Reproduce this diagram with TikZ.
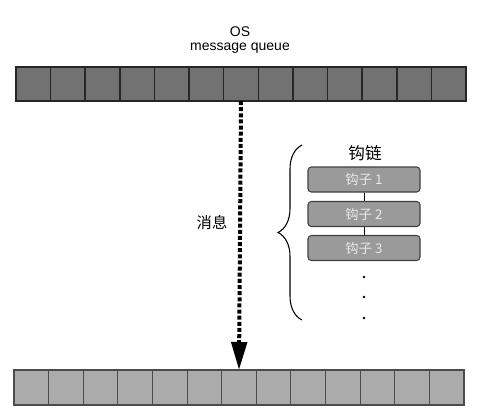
\documentclass[tikz,border=0pt]{standalone}
\usepackage{fontspec}
\setmainfont{Liberation Sans}
\newfontfamily\cjk{Noto Sans CJK SC}
\newfontfamily\cjkm{Noto Sans CJK SC Medium}
\usetikzlibrary{arrows.meta,decorations.pathreplacing}
\definecolor{topcell}{HTML}{727272}
\definecolor{botcell}{HTML}{ABABAB}
\definecolor{hookfill}{HTML}{9A9A9A}
\definecolor{hooktext}{HTML}{E8E8E8}
\tikzset{
  topq/.style={draw=black!85,line width=1.1pt,fill=topcell,minimum width=34.6*0.75pt,minimum height=34*0.75pt,inner sep=0pt,outer sep=0pt},
  botq/.style={draw=black!70,line width=0.8pt,fill=botcell,minimum width=34.6*0.75pt,minimum height=35*0.75pt,inner sep=0pt,outer sep=0pt},
  hookbox/.style={draw=black!75,line width=0.8pt,fill=hookfill,rounded corners=2.5pt,minimum width=112*0.75pt,minimum height=25*0.75pt,inner sep=0pt,text=hooktext,font=\cjk\fontsize{10}{11}\selectfont},
  lbl/.style={inner sep=0pt},
  msgarrow/.style={line width=3pt,dash pattern=on 3pt off 1.6pt,-{Triangle[length=21pt,width=11.5pt]}},
  dotlbl/.style={circle,fill=black,inner sep=0pt,minimum size=2.2pt},
}
\begin{document}
\begin{tikzpicture}[x=0.75pt,y=-0.75pt]
\useasboundingbox (0,0) rectangle (481,411);
\node[lbl,font=\fontsize{10.5}{12}\selectfont] (os) at (240,32) {OS};
\node[lbl,font=\fontsize{10.5}{12}\selectfont] (mq) at (240,48.5) {message queue};
\foreach \i in {1,...,13}{
  \node[topq] (q\i) at ({16+(\i-0.5)*34.615},84) {};
  \node[botq] (b\i) at ({14+(\i-0.5)*34.615},387.5) {};
}
\draw[msgarrow] (q7.south) -- (b7.north);
\node[lbl,font=\cjk\fontsize{11.5}{13}\selectfont] (msg) at (212,223) {消息};
\coordinate (brb) at (302,320);
\coordinate (brt) at (302,145);
\draw[line width=0.8pt,decorate,decoration={brace,amplitude=18pt,aspect=0.5}] (brb) -- (brt);
\node[lbl,font=\cjk\fontsize{12.5}{14}\selectfont] (chain) at (365,153) {钩链};
\node[hookbox] (h1) at (364,179.5) {钩子 1};
\node[hookbox] (h2) at (364,214) {钩子 2};
\node[hookbox] (h3) at (364,248) {钩子 3};
\draw[line width=0.6pt] (h1) -- (h2);
\draw[line width=0.6pt] (h2) -- (h3);
\node[dotlbl] (d1) at (364,277) {};
\node[dotlbl] (d2) at (364,297) {};
\node[dotlbl] (d3) at (364,318) {};
\end{tikzpicture}
\end{document}
